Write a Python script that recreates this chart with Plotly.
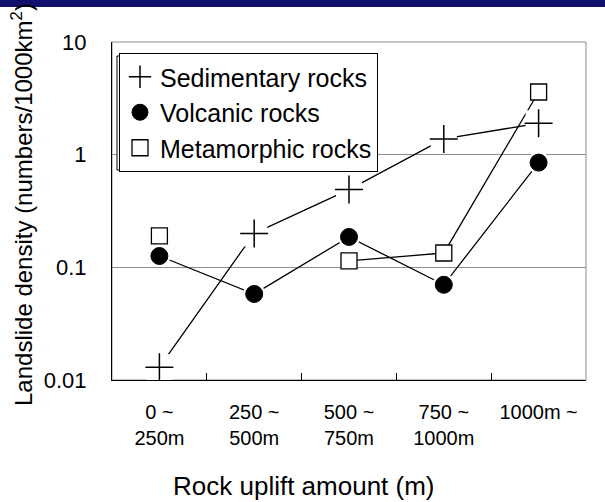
import plotly.graph_objects as go

categories = ["0 ~<br>250m", "250 ~<br>500m", "500 ~<br>750m", "750 ~<br>1000m", "1000m ~"]
sedimentary = [0.013, 0.20, 0.49, 1.38, 1.9]
volcanic = [0.126, 0.058, 0.186, 0.070, 0.85]
metamorphic = [0.19, None, 0.114, 0.134, 3.6]
series_names = ["Sedimentary rocks", "Volcanic rocks", "Metamorphic rocks"]
y_tickvals = [0.01, 0.1, 1, 10]
y_ticktext = ["0.01", "0.1", "1", "10"]

W, H = 605, 502
L, R, T, B = 112, 19, 42, 122
pw, ph = W - L - R, H - T - B

def px(x):
    return (x - L) / pw

def py(y):
    return 1 - (y - T) / ph

FONT = "Arial, Liberation Sans, sans-serif"

fig = go.Figure()

# connecting lines (metamorphic: first point isolated)
fig.add_trace(go.Scatter(x=categories, y=sedimentary, mode="lines",
                         line=dict(color="black", width=1.3), showlegend=False, hoverinfo="skip"))
fig.add_trace(go.Scatter(x=categories, y=volcanic, mode="lines",
                         line=dict(color="black", width=1.3), showlegend=False, hoverinfo="skip"))
fig.add_trace(go.Scatter(x=categories, y=metamorphic, mode="lines", connectgaps=False,
                         line=dict(color="black", width=1.3), showlegend=False, hoverinfo="skip"))
# white halos behind markers (lines stop short of the markers)
fig.add_trace(go.Scatter(x=categories, y=sedimentary, mode="markers",
                         marker=dict(symbol="square", size=26, color="white", line=dict(width=0)),
                         showlegend=False, hoverinfo="skip"))
fig.add_trace(go.Scatter(x=categories, y=volcanic, mode="markers",
                         marker=dict(symbol="circle", size=22, color="white", line=dict(width=0)),
                         showlegend=False, hoverinfo="skip"))

fig.add_trace(go.Scatter(x=categories, y=sedimentary, mode="markers", name=series_names[0],
                         marker=dict(symbol="cross-thin", size=20, color="black",
                                     line=dict(color="black", width=1.5))))
fig.add_trace(go.Scatter(x=categories, y=volcanic, mode="markers", name=series_names[1],
                         marker=dict(symbol="circle", size=17, color="black",
                                     line=dict(color="black", width=1))))
fig.add_trace(go.Scatter(x=categories, y=metamorphic, mode="markers", name=series_names[2],
                         marker=dict(symbol="square", size=16, color="white",
                                     line=dict(color="black", width=1.3))))

shapes = [
    # plot frame (grey top/right)
    dict(type="rect", xref="paper", yref="paper", x0=0, x1=1, y0=0, y1=1,
         line=dict(color="#8c8c8c", width=1), layer="below"),
    # legend shadow
    dict(type="rect", xref="paper", yref="paper", x0=px(117), x1=px(375), y0=py(170), y1=py(56),
         fillcolor="white", line=dict(color="black", width=1), layer="above"),
    # top banner
    dict(type="rect", xref="paper", yref="paper", x0=px(0), x1=px(W), y0=py(0), y1=py(7),
         fillcolor="#10106e", line=dict(width=0), layer="above"),
]

annotations = [
    dict(text="Landslide density (numbers/1000km<sup>2</sup>)", textangle=-90,
         xref="paper", yref="paper", x=px(22), y=py(205), xanchor="center", yanchor="middle",
         showarrow=False, font=dict(family=FONT, size=24, color="black")),
    dict(text="Rock uplift amount (m)", xref="paper", yref="paper", x=px(304), y=py(486),
         xanchor="center", yanchor="middle", showarrow=False,
         font=dict(family=FONT, size=26, color="black")),
]

fig.update_layout(
    width=W, height=H,
    margin=dict(l=L, r=R, t=T, b=B, pad=0),
    paper_bgcolor="white", plot_bgcolor="white",
    font=dict(family=FONT, color="black"),
    shapes=shapes, annotations=annotations,
    legend=dict(x=px(119), y=py(53), xanchor="left", yanchor="top",
                bgcolor="white", bordercolor="black", borderwidth=1,
                font=dict(family=FONT, size=25, color="black"),
                itemwidth=30, tracegroupgap=0, traceorder="normal"),
    xaxis=dict(type="category", range=[-0.5, 4.5], showgrid=False, showline=True,
               linecolor="black", linewidth=1,
               ticks="inside", tickson="boundaries", ticklen=7, tickcolor="black",
               tickfont=dict(family=FONT, size=20, color="black"),
               ticklabelstandoff=14, layer="below traces", zeroline=False),
    yaxis=dict(type="log", range=[-2, 1], tickvals=y_tickvals, ticktext=y_ticktext,
               showgrid=True, gridcolor="#8c8c8c", gridwidth=1,
               showline=True, linecolor="black", linewidth=1, ticks="",
               tickfont=dict(family=FONT, size=22, color="black"),
               ticklabelstandoff=20, zeroline=False),
    hovermode=False,
)

fig.write_html("out.html", config={"displayModeBar": False},
               post_script="document.body.style.margin='0';document.body.style.overflow='hidden';")
